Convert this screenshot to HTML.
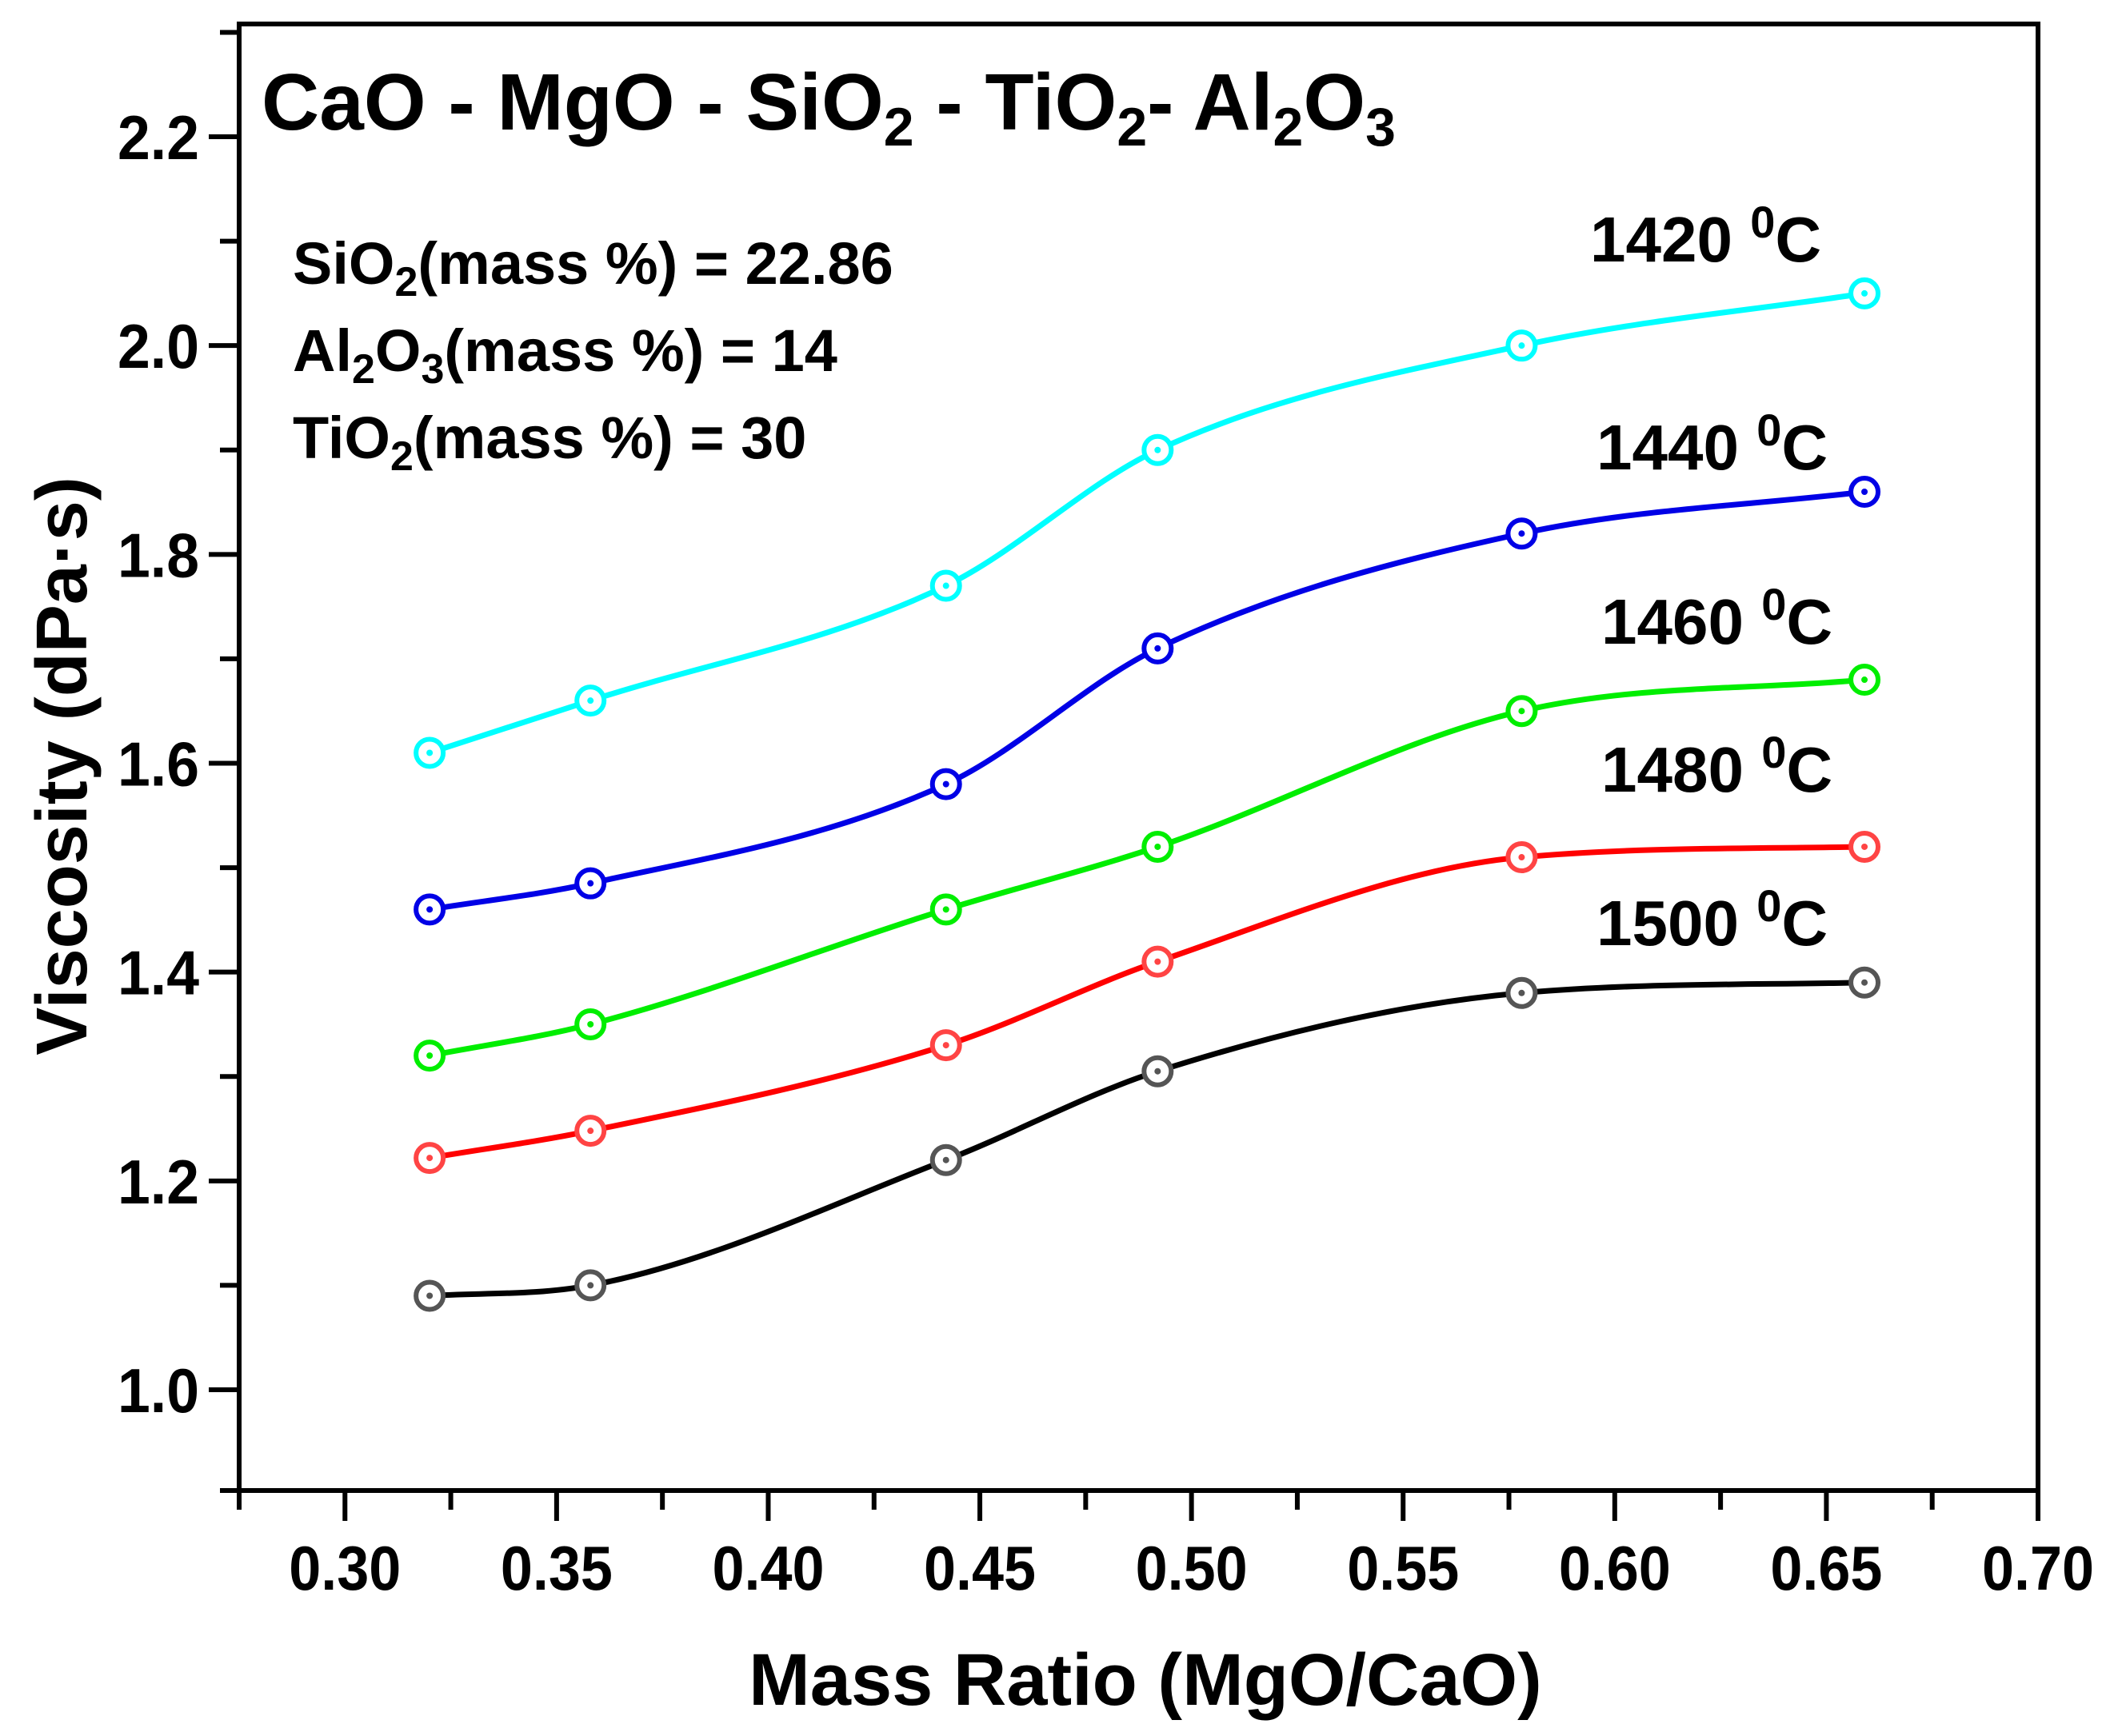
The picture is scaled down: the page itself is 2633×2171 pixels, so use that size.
<!DOCTYPE html>
<html><head><meta charset="utf-8"><style>
html,body{margin:0;padding:0;background:#fff}
svg{display:block}
text{font-family:"Liberation Sans",Arial,sans-serif;font-weight:bold;fill:#000}
</style></head><body>
<svg id="chart" width="2633" height="2171" viewBox="0 0 2633 2171">
<g id="axes"></g>
<g id="series"></g>
<text x="327" y="162" font-size="100">CaO - MgO - SiO<tspan dy="20" font-size="68">2</tspan><tspan dy="-20"> - TiO</tspan><tspan dy="20" font-size="68">2</tspan><tspan dy="-20">- Al</tspan><tspan dy="20" font-size="68">2</tspan><tspan dy="-20">O</tspan><tspan dy="20" font-size="68">3</tspan></text>
<text x="366" y="355" font-size="74">SiO<tspan dy="15" font-size="52">2</tspan><tspan dy="-15">(mass %) = 22.86</tspan></text>
<text x="366" y="464" font-size="74">Al<tspan dy="15" font-size="52">2</tspan><tspan dy="-15">O</tspan><tspan dy="15" font-size="52">3</tspan><tspan dy="-15">(mass %) = 14</tspan></text>
<text x="366" y="573" font-size="74">TiO<tspan dy="15" font-size="52">2</tspan><tspan dy="-15">(mass %) = 30</tspan></text>
<text x="1432" y="2132" font-size="92" text-anchor="middle">Mass Ratio (MgO/CaO)</text>
<text transform="translate(108,958) rotate(-90)" font-size="90" text-anchor="middle">Viscosity (dPa·s)</text>
</svg>
<script>
const xTicks=[0.30,0.35,0.40,0.45,0.50,0.55,0.60,0.65,0.70];
const xTickLabels=["0.30","0.35","0.40","0.45","0.50","0.55","0.60","0.65","0.70"];
const yTicks=[1.0,1.2,1.4,1.6,1.8,2.0,2.2];
const yTickLabels=["1.0","1.2","1.4","1.6","1.8","2.0","2.2"];
const xValues=[0.32,0.358,0.442,0.492,0.578,0.659];
const v1420=[1.61,1.66,1.77,1.90,2.00,2.05];
const v1440=[1.46,1.485,1.58,1.71,1.82,1.86];
const v1460=[1.32,1.35,1.46,1.52,1.65,1.68];
const v1480=[1.222,1.248,1.33,1.41,1.51,1.52];
const v1500=[1.09,1.10,1.22,1.305,1.38,1.39];
const seriesNames=["1420","1440","1460","1480","1500"];

const L=299,R=2548,T=30,B=1864,X0=0.275,X1=0.70,Y0=0.9035,Y1=2.308;
const sx=v=>L+(v-X0)/(X1-X0)*(R-L);
const sy=v=>B-(v-Y0)/(Y1-Y0)*(B-T);
const NS="http://www.w3.org/2000/svg";
function mk(tag,attrs,parent){const e=document.createElementNS(NS,tag);for(const k in attrs)e.setAttribute(k,attrs[k]);parent.appendChild(e);return e;}
const axes=document.getElementById('axes');
const frame=mk('rect',{x:L,y:T,width:R-L,height:B-T,fill:'none',stroke:'#000','stroke-width':6},axes);


for(let i=0;i<=17;i++){
  const v=0.275+i*0.025;const x=sx(v);const major=i%2==1;
  const t=mk('line',{x1:x,x2:x,y1:B,y2:B+(major?38:24),stroke:'#000','stroke-width':6},axes);
  
  
}
xTicks.forEach((v,i)=>{
  const t=mk('text',{x:sx(v)-70,y:B+124,'font-size':78,textLength:140,lengthAdjust:'spacingAndGlyphs'},axes);t.textContent=xTickLabels[i];
  
  
});
for(let i=0;i<=14;i++){
  const v=0.9+i*0.1;if(v<Y0-0.01||v>Y1)continue;const y=Math.min(sy(v),B);const major=i%2==1;
  const t=mk('line',{x1:L,x2:L-(major?38:24),y1:y,y2:y,stroke:'#000','stroke-width':6},axes);
  
  
}
yTicks.forEach((v,i)=>{
  const t=mk('text',{x:L-50-102,y:sy(v)+28,'font-size':78,textLength:102,lengthAdjust:'spacingAndGlyphs'},axes);t.textContent=yTickLabels[i];
  
  
});
const seriesData=[v1420,v1440,v1460,v1480,v1500];
const lineColors=['#00ffff','#0000e6','#00ee00','#ff0000','#000000'];
const markColors=['#00ffff','#0000e6','#00ee00','#ff4444','#555555'];
const labelPos=[[1988,327],[1996,587],[2002,805],[2002,990],[1996,1182]];
function monoPath(pts){
  const n=pts.length,d=[],m=[];
  for(let i=0;i<n-1;i++)d.push((pts[i+1][1]-pts[i][1])/(pts[i+1][0]-pts[i][0]));
  m[0]=d[0];m[n-1]=d[n-2];
  for(let i=1;i<n-1;i++){m[i]=(d[i-1]*d[i]<=0)?0:(d[i-1]+d[i])/2;}
  for(let i=0;i<n-1;i++){
    if(d[i]===0){m[i]=0;m[i+1]=0;continue;}
    const a=m[i]/d[i],b=m[i+1]/d[i],s=a*a+b*b;
    if(s>9){const t=3/Math.sqrt(s);m[i]=t*a*d[i];m[i+1]=t*b*d[i];}
  }
  let p='M'+pts[0][0]+','+pts[0][1];
  for(let i=0;i<n-1;i++){
    const h=(pts[i+1][0]-pts[i][0])/3;
    p+=' C'+(pts[i][0]+h)+','+(pts[i][1]+m[i]*h)+' '+(pts[i+1][0]-h)+','+(pts[i+1][1]-m[i+1]*h)+' '+pts[i+1][0]+','+pts[i+1][1];
  }
  return p;
}
const sg=document.getElementById('series');
seriesData.forEach((vals,si)=>{
  const g=mk('g',{},sg);
  
  
  const pts=vals.map((v,i)=>[sx(xValues[i]),sy(v)]);
  const path=mk('path',{d:monoPath(pts),fill:'none',stroke:lineColors[si],'stroke-width':7},g);
  
  
  pts.forEach(p=>{
    const c=mk('circle',{cx:p[0],cy:p[1],r:17,fill:'#fff',stroke:markColors[si],'stroke-width':6},g);
    
    
    const dot=mk('circle',{cx:p[0],cy:p[1],r:4,fill:markColors[si]},g);
    
    
  });
  const lt=mk('text',{x:labelPos[si][0],y:labelPos[si][1],'font-size':80},g);
  lt.innerHTML=seriesNames[si]+' <tspan dy="-30" font-size="56">0</tspan><tspan dy="30">C</tspan>';
  
  
});
</script>
</body></html>
